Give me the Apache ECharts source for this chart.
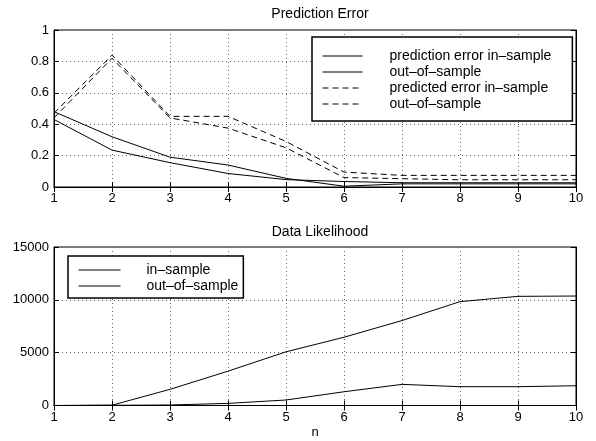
<!DOCTYPE html>
<html>
<head>
<meta charset="utf-8">
<script src="https://cdn.jsdelivr.net/npm/echarts@6/dist/echarts.min.js"></script>
<style>
html,body{margin:0;padding:0;background:#fff;}
#c{width:596px;height:441px;}
</style>
</head>
<body>
<div id="c"></div>
<script>
// ---- data ----
var nValues = [1, 2, 3, 4, 5, 6, 7, 8, 9, 10];
var predErrorIn  = [0.48, 0.32, 0.19, 0.14, 0.055, 0.005, 0.02, 0.02, 0.02, 0.02];
var predErrorOut = [0.43, 0.235, 0.155, 0.086, 0.047, 0.035, 0.027, 0.027, 0.027, 0.027];
var predictedErrIn  = [0.47, 0.84, 0.45, 0.45, 0.29, 0.095, 0.074, 0.074, 0.074, 0.074];
var predictedErrOut = [0.44, 0.82, 0.44, 0.375, 0.25, 0.06, 0.053, 0.046, 0.046, 0.046];
var likIn  = [0, 30, 1530, 3250, 5080, 6460, 8040, 9830, 10330, 10360];
var likOut = [0, 20, 50, 200, 520, 1300, 2000, 1780, 1780, 1870];
var topLegendLabels = ['prediction error in\u2013sample', 'out\u2013of\u2013sample', 'predicted error in\u2013sample', 'out\u2013of\u2013sample'];
var bottomLegendLabels = ['in\u2013sample', 'out\u2013of\u2013sample'];
var titles = ['Prediction Error', 'Data Likelihood'];
var xName = 'n';

function pairs(ys) { return nValues.map(function (x, i) { return [x, ys[i]]; }); }

var FONT = 'Liberation Sans, Arial, Helvetica, sans-serif';
var dotted = { lineStyle: { color: '#666', type: [1, 3], width: 1 } };

function xAx(gi, pos, showLabel) {
  return {
    type: 'value', gridIndex: gi, position: pos, min: 1, max: 10, interval: 1,
    name: (pos === 'bottom' && gi === 1) ? xName : '',
    nameLocation: 'middle', nameGap: 20,
    nameTextStyle: { fontFamily: FONT, fontSize: 13, color: '#000' },
    axisLine: { show: true, lineStyle: { color: '#000', width: 1 } },
    axisTick: { show: true, inside: true, length: 5, lineStyle: { color: '#000' } },
    axisLabel: { show: showLabel, fontFamily: FONT, fontSize: 13, color: '#000', margin: 5,
                 formatter: function (v) { return String(v); } },
    splitLine: pos === 'bottom' ? Object.assign({ show: true }, dotted) : { show: false }
  };
}
function yAx(gi, pos, showLabel, max, interval) {
  return {
    type: 'value', gridIndex: gi, position: pos, min: 0, max: max, interval: interval,
    axisLine: { show: true, lineStyle: { color: '#000', width: 1 } },
    axisTick: { show: true, inside: true, length: 5, lineStyle: { color: '#000' } },
    axisLabel: { show: showLabel, fontFamily: FONT, fontSize: 13, color: '#000', margin: 5,
                 formatter: function (v) { return String(v); } },
    splitLine: pos === 'left' ? Object.assign({ show: true }, dotted) : { show: false }
  };
}
function lineSeries(name, data, xi, yi, dashed) {
  return {
    type: 'line', name: name, data: pairs(data), xAxisIndex: xi, yAxisIndex: yi,
    symbol: 'none', showSymbol: false, animation: false,
    lineStyle: { color: '#000', width: 1, type: dashed ? [6, 4] : 'solid' },
    itemStyle: { color: '#000' }
  };
}

var topNames = ['s0', 's1', 's2', 's3'];
var botNames = ['b0', 'b1'];

var option = {
  backgroundColor: '#fff',
  animation: false,
  title: [
    { text: titles[0], left: 315, textAlign: 'center', top: 2,
      textStyle: { fontFamily: FONT, fontSize: 14, fontWeight: 'normal', color: '#000' } },
    { text: titles[1], left: 315, textAlign: 'center', top: 220,
      textStyle: { fontFamily: FONT, fontSize: 14, fontWeight: 'normal', color: '#000' } }
  ],
  grid: [
    { left: 54, right: 20, top: 30, bottom: 254, show: true, borderColor: '#000', borderWidth: 1,
      outerBoundsMode: 'none', containLabel: false },
    { left: 54, right: 20, top: 247, bottom: 35.5, show: true, borderColor: '#000', borderWidth: 1,
      outerBoundsMode: 'none', containLabel: false }
  ],
  xAxis: [xAx(0, 'bottom', true), xAx(0, 'top', false), xAx(1, 'bottom', true), xAx(1, 'top', false)],
  yAxis: [yAx(0, 'left', true, 1, 0.2), yAx(0, 'right', false, 1, 0.2),
          yAx(1, 'left', true, 15000, 5000), yAx(1, 'right', false, 15000, 5000)],
  legend: [
    {
      data: topNames, orient: 'vertical', left: 312, top: 37,
      itemWidth: 40, itemHeight: 14, itemGap: 2,
      padding: [12, 21, 10, 10],
      backgroundColor: '#fff', borderColor: '#000', borderWidth: 1.5,
      selectedMode: false,
      itemStyle: { opacity: 0 },
      lineStyle: { width: 1 },
      formatter: function (name) { return '{s|}' + topLegendLabels[topNames.indexOf(name)]; },
      textStyle: { fontFamily: FONT, fontSize: 14, color: '#000', rich: { s: { width: 22 } } }
    },
    {
      data: botNames, orient: 'vertical', left: 68, top: 256,
      itemWidth: 42, itemHeight: 14, itemGap: 2,
      padding: [7, 5, 5, 10],
      backgroundColor: '#fff', borderColor: '#000', borderWidth: 1.5,
      selectedMode: false,
      itemStyle: { opacity: 0 },
      lineStyle: { width: 1 },
      formatter: function (name) { return '{s|}' + bottomLegendLabels[botNames.indexOf(name)]; },
      textStyle: { fontFamily: FONT, fontSize: 14, color: '#000', rich: { s: { width: 21 } } }
    }
  ],
  series: [
    lineSeries('s0', predErrorIn, 0, 0, false),
    lineSeries('s1', predErrorOut, 0, 0, false),
    lineSeries('s2', predictedErrIn, 0, 0, true),
    lineSeries('s3', predictedErrOut, 0, 0, true),
    lineSeries('b0', likIn, 2, 2, false),
    lineSeries('b1', likOut, 2, 2, false)
  ]
};

var chart = echarts.init(document.getElementById('c'), null, { renderer: 'canvas' });
chart.setOption(option);
</script>
</body>
</html>
